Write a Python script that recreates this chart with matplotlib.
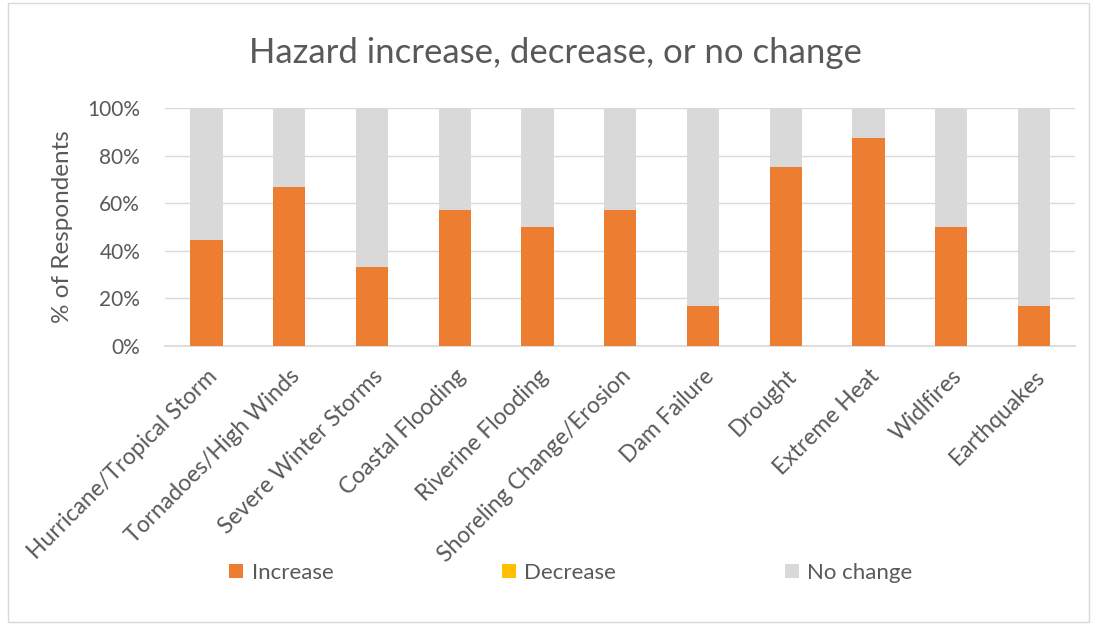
import matplotlib
matplotlib.use("Agg")
import matplotlib.pyplot as plt
from matplotlib.patches import Rectangle
from matplotlib.ticker import FuncFormatter
import numpy as np

categories = ["Hurricane/Tropical Storm", "Tornadoes/High Winds", "Severe Winter Storms",
              "Coastal Flooding", "Riverine Flooding", "Shoreling Change/Erosion",
              "Dam Failure", "Drought", "Extreme Heat", "Widlfires", "Earthquakes"]
increase = [44.4, 66.7, 33.3, 57.1, 50.0, 57.1, 16.7, 75.0, 87.5, 50.0, 16.7]
decrease = [0, 0, 0, 0, 0, 0, 0, 0, 0, 0, 0]
no_change = [100 - a - b for a, b in zip(increase, decrease)]
yticks = [0, 20, 40, 60, 80, 100]

plt.rcParams['font.family'] = ['Lato', 'DejaVu Sans']
txt = '#595959'

fig = plt.figure(figsize=(10.94, 6.35), dpi=100)
ax = fig.add_axes([0.151, 0.455, 0.832, 0.375])

x = np.arange(len(categories))
w = 0.39
inc = np.array(increase)
dec = np.array(decrease)
nc = np.array(no_change)
ax.bar(x, inc, w, color='#ED7D31', label='Increase', zorder=3)
ax.bar(x, dec, w, bottom=inc, color='#FFC000', label='Decrease', zorder=3)
ax.bar(x, nc, w, bottom=inc + dec, color='#D9D9D9', label='No change', zorder=3)

ax.set_xlim(-0.5, len(categories) - 0.5)
ax.set_ylim(0, 100)
ax.set_yticks(yticks)
ax.yaxis.set_major_formatter(FuncFormatter(lambda v, p: f"{int(v)}%"))
ax.grid(axis='y', color='#D9D9D9', linewidth=1, zorder=0)
for s in ['top', 'right', 'left']:
    ax.spines[s].set_visible(False)
ax.spines['bottom'].set_color('#D9D9D9')
ax.spines['bottom'].set_linewidth(1.2)
ax.tick_params(axis='both', length=0, colors=txt)
ax.tick_params(axis='y', pad=18, labelsize=15)
ax.set_xticks(x)
ax.set_xticklabels(categories, rotation=45, ha='right', rotation_mode='anchor', color=txt)
ax.tick_params(axis='x', pad=14, labelsize=16.5)
ax.set_ylabel('% of Respondents', color=txt, fontsize=17.5, labelpad=10)

fig.text(0.508, 0.917, 'Hazard increase, decrease, or no change', ha='center', va='center',
         color=txt, fontsize=25)

leg = fig.legend(loc='center', bbox_to_anchor=(0.522, 0.098), ncol=3, frameon=False,
                 fontsize=16, handlelength=0.6, handleheight=0.6, handletextpad=0.4,
                 columnspacing=7.6)
for t in leg.get_texts():
    t.set_color(txt)

fig.patches.append(Rectangle((0.007, 0.02), 0.988, 0.975, transform=fig.transFigure,
                             fill=False, edgecolor='#D9D9D9', linewidth=1))

fig.savefig('out.png', dpi=100)
